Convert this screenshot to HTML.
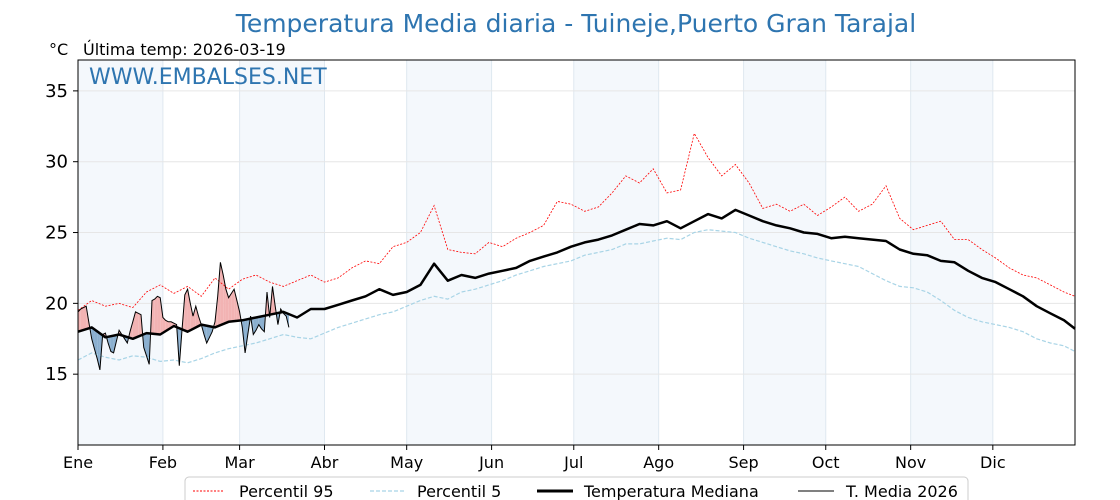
<!DOCTYPE html>
<html><head><meta charset="utf-8"><style>
html,body{margin:0;padding:0;background:#fff}
svg{display:block;font-family:"DejaVu Sans","Liberation Sans",sans-serif}
</style></head><body>
<svg id="chart" width="1120" height="500" viewBox="0 0 1120 500">
<text x="576" y="32" text-anchor="middle" font-size="25" fill="#2e75b0">Temperatura Media diaria - Tuineje,Puerto Gran Tarajal</text>
<text x="49" y="55" font-size="16" fill="#000">°C</text>
<text x="83" y="55" font-size="16" fill="#000">Última temp: 2026-03-19</text>
<g id="bands"></g>
<g id="grid"></g>
<g id="marks"></g>
<rect x="78" y="60" width="997" height="385" fill="none" stroke="#000" stroke-width="1"/>
<text x="89" y="84" font-size="22" fill="#2e75b0">WWW.EMBALSES.NET</text>
<g id="axes"></g>
<g>
<rect x="185" y="477" width="783" height="30" rx="4" fill="#fff" stroke="#ccc"/>
<line x1="193" y1="491" x2="224" y2="491" stroke="red" stroke-width="1" stroke-dasharray="2,1.5"/>
<text x="239" y="497" font-size="16">Percentil 95</text>
<line x1="370" y1="491" x2="405" y2="491" stroke="#a8d4e6" stroke-width="1.2" stroke-dasharray="4,2"/>
<text x="417" y="497" font-size="16">Percentil 5</text>
<line x1="537" y1="491" x2="573" y2="491" stroke="#000" stroke-width="3"/>
<text x="584" y="497" font-size="16">Temperatura Mediana</text>
<line x1="798" y1="491" x2="834" y2="491" stroke="#000" stroke-width="1"/>
<text x="846" y="497" font-size="16">T. Media 2026</text>
</g>
</svg>
<script>
const months = ["Ene","Feb","Mar","Abr","May","Jun","Jul","Ago","Sep","Oct","Nov","Dic"];
const monthStart = [0,31,59,90,120,151,181,212,243,273,304,334];
const yTicks = [15,20,25,30,35];
const stepDays = [0,5,10,15,20,25,30,35,40,45,50,55,60,65,70,75,80,85,90,95,100,105,110,115,120,125,130,135,140,145,150,155,160,165,170,175,180,185,190,195,200,205,210,215,220,225,230,235,240,245,250,255,260,265,270,275,280,285,290,295,300,305,310,315,320,325,330,335,340,345,350,355,360,364];
const median = [18.0,18.3,17.6,17.8,17.5,17.9,17.8,18.4,18.0,18.5,18.3,18.7,18.8,19.0,19.2,19.4,19.0,19.6,19.6,19.9,20.2,20.5,21.0,20.6,20.8,21.3,22.8,21.6,22.0,21.8,22.1,22.3,22.5,23.0,23.3,23.6,24.0,24.3,24.5,24.8,25.2,25.6,25.5,25.8,25.3,25.8,26.3,26.0,26.6,26.2,25.8,25.5,25.3,25.0,24.9,24.6,24.7,24.6,24.5,24.4,23.8,23.5,23.4,23.0,22.9,22.3,21.8,21.5,21.0,20.5,19.8,19.3,18.8,18.2];
const p95 = [19.5,20.2,19.8,20.0,19.7,20.8,21.3,20.7,21.2,20.5,21.8,21.0,21.7,22.0,21.5,21.2,21.6,22.0,21.5,21.8,22.5,23.0,22.8,24.0,24.3,25.0,26.9,23.8,23.6,23.5,24.3,24.0,24.6,25.0,25.5,27.2,27.0,26.5,26.8,27.8,29.0,28.5,29.5,27.8,28.0,32.0,30.3,29.0,29.8,28.5,26.7,27.0,26.5,27.0,26.2,26.8,27.5,26.5,27.0,28.3,26.0,25.2,25.5,25.8,24.5,24.5,23.8,23.2,22.5,22.0,21.8,21.3,20.8,20.5];
const p5 = [16.0,16.5,16.2,16.0,16.3,16.2,15.9,16.0,15.8,16.1,16.5,16.8,17.0,17.2,17.5,17.8,17.6,17.5,17.9,18.3,18.6,18.9,19.2,19.4,19.8,20.2,20.5,20.3,20.8,21.0,21.3,21.6,22.0,22.3,22.6,22.8,23.0,23.4,23.6,23.8,24.2,24.2,24.4,24.6,24.5,25.0,25.2,25.1,25.0,24.6,24.3,24.0,23.7,23.5,23.2,23.0,22.8,22.6,22.1,21.6,21.2,21.1,20.8,20.2,19.5,19.0,18.7,18.5,18.3,18.0,17.5,17.2,17.0,16.6];
const t2026 = [19.4,19.6,19.7,19.8,18.6,17.5,16.8,16.1,15.3,17.8,17.9,17.2,16.6,16.5,17.3,18.1,17.8,17.5,17.2,18.0,18.7,19.4,19.3,19.2,16.9,16.3,15.7,20.2,20.3,20.5,20.4,19.0,18.8,18.7,18.7,18.6,18.5,15.6,18.2,20.6,21.0,20.0,19.1,19.8,19.1,18.5,17.8,17.2,17.6,18.0,18.7,20.5,22.9,22.0,21.0,20.4,20.7,21.0,20.2,19.4,18.3,16.5,17.8,19.1,17.8,18.1,18.5,18.2,18.0,20.8,19.0,21.2,19.8,18.5,19.6,19.3,19.1,18.3];

const NS="http://www.w3.org/2000/svg";
const X0=78,X1=1075,Y0=60,Y1=445,YMIN=10,YMAX=37.18,NDAYS=364;
const xs=d=>X0+d*(X1-X0)/NDAYS;
const ys=v=>Y1-(v-YMIN)*(Y1-Y0)/(YMAX-YMIN);
function mk(tag,attrs,parent){const e=document.createElementNS(NS,tag);for(const k in attrs)e.setAttribute(k,attrs[k]);parent.appendChild(e);return e;}
const bands=document.getElementById('bands'),grid=document.getElementById('grid'),marks=document.getElementById('marks'),axes=document.getElementById('axes');

months.forEach((m,i)=>{
  const a=monthStart[i],b=i<11?monthStart[i+1]:NDAYS;
  if(i%2===0){
    const r=mk('rect',{x:xs(a),y:Y0,width:xs(b)-xs(a),height:Y1-Y0,fill:'#f4f8fc'},bands);
    
    
  }
  const gl=mk('line',{x1:xs(a),x2:xs(a),y1:Y0,y2:Y1,stroke:'#dfe8f0','stroke-width':1},grid);
  
  
  const t=mk('line',{x1:xs(a),x2:xs(a),y1:Y1,y2:Y1+5,stroke:'#000'},axes);
  
  
  const tx=mk('text',{x:xs(a),y:Y1+23,'text-anchor':'middle','font-size':16},axes);
  tx.textContent=m;
  
  
});
yTicks.forEach(v=>{
  const gl=mk('line',{x1:X0,x2:X1,y1:ys(v),y2:ys(v),stroke:'#e6e6e6','stroke-width':1},grid);
  
  
  const t=mk('line',{x1:X0-5,x2:X0,y1:ys(v),y2:ys(v),stroke:'#000'},axes);
  
  
  const tx=mk('text',{x:X0-10,y:ys(v)+6,'text-anchor':'end','font-size':18},axes);
  tx.textContent=v;
  
  
});

function pathFrom(days,vals){return vals.map((v,i)=>(i?'L':'M')+xs(days[i]).toFixed(1)+','+ys(v).toFixed(1)).join('');}
function medianAt(d){for(let i=0;i<stepDays.length-1;i++){if(d<=stepDays[i+1]){const f=(d-stepDays[i])/(stepDays[i+1]-stepDays[i]);return median[i]+f*(median[i+1]-median[i]);}}return median[median.length-1];}

for(let i=0;i<t2026.length-1;i++){
  const a=t2026[i],b=t2026[i+1],ma=medianAt(i),mb=medianAt(i+1);
  const da=a-ma,db=b-mb;
  const seg=(d0,d1,v0,v1,m0,m1,col)=>{
    const p=mk('path',{d:`M${xs(d0)},${ys(v0)}L${xs(d1)},${ys(v1)}L${xs(d1)},${ys(m1)}L${xs(d0)},${ys(m0)}Z`,fill:col,stroke:'none'},marks);
    
    
  };
  const colOf=d=>d>=0?'#f2b3b3':'#8aafcf';
  if(da*db>=0){seg(i,i+1,a,b,ma,mb,colOf(da+db));}
  else{const f=da/(da-db),dm=i+f,vm=a+f*(b-a);seg(i,dm,a,vm,ma,vm,colOf(da));seg(dm,i+1,vm,b,vm,mb,colOf(db));}
}
const l95=mk('path',{d:pathFrom(stepDays,p95),fill:'none',stroke:'red','stroke-width':0.8,'stroke-dasharray':'2,1.5'},marks);


const l5=mk('path',{d:pathFrom(stepDays,p5),fill:'none',stroke:'#a8d4e6','stroke-width':1.2,'stroke-dasharray':'4,2'},marks);


const lm=mk('path',{d:pathFrom(stepDays,median),fill:'none',stroke:'#000','stroke-width':2.5,'stroke-linejoin':'round'},marks);


const l26=mk('path',{d:pathFrom(t2026.map((_,i)=>i),t2026),fill:'none',stroke:'#000','stroke-width':1},marks);


</script>
</body></html>
